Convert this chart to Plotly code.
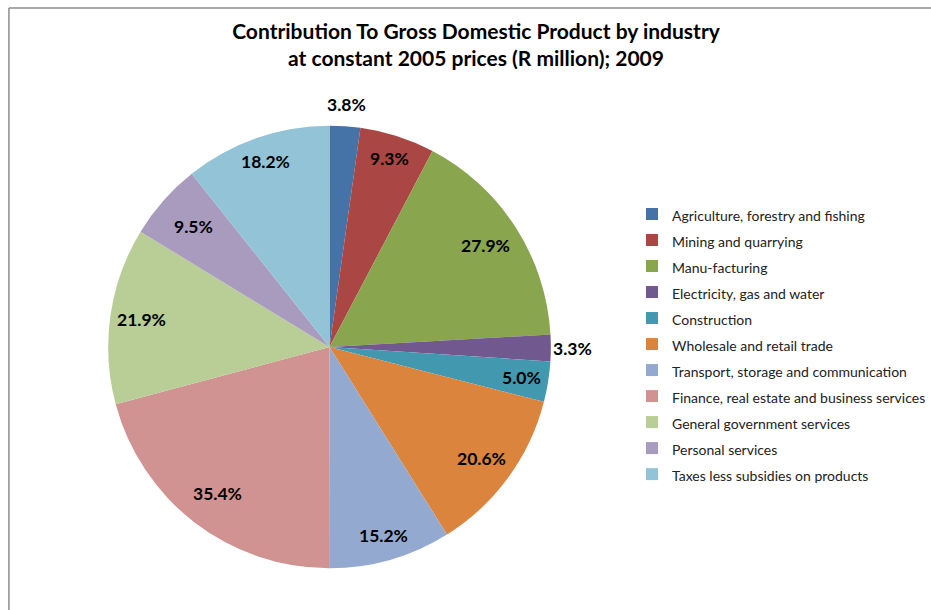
import math
import plotly.graph_objects as go

industries = [
    "Agriculture, forestry and fishing",
    "Mining and quarrying",
    "Manu-facturing",
    "Electricity, gas and water",
    "Construction",
    "Wholesale and retail trade",
    "Transport, storage and communication",
    "Finance, real estate and business services",
    "General government services",
    "Personal services",
    "Taxes less subsidies on products",
]
values = [3.8, 9.3, 27.9, 3.3, 5.0, 20.6, 15.2, 35.4, 21.9, 9.5, 18.2]
value_labels = ["3.8%", "9.3%", "27.9%", "3.3%", "5.0%", "20.6%", "15.2%", "35.4%", "21.9%", "9.5%", "18.2%"]

colors = ["#4572A7", "#AA4643", "#89A54E", "#71588F", "#4198AF", "#DB843D",
          "#93A9CF", "#D19392", "#B9CD96", "#A99BBD", "#92C3D6"]
# label distance from centre as a fraction of the radius (style)
label_radius = [1.09, 0.89, 0.84, 1.10, 0.88, 0.85, 0.88, 0.83, 0.86, 0.82, 0.88]

W, H = 931, 610
cx, cy, R = 332, 347, 223

fig = go.Figure()
fig.add_trace(go.Pie(
    labels=[f"<span style='font-size:14px'>{n}</span>" for n in industries],
    values=values,
    sort=False,
    direction="clockwise",
    rotation=0,
    marker=dict(colors=colors, line=dict(color="white", width=0)),
    textinfo="none",
    hoverinfo="label+value",
    domain=dict(x=[(cx - R) / W, (cx + R) / W], y=[1 - (cy + R) / H, 1 - (cy - R) / H]),
))

annotations = []
total = sum(values)
cum = 0.0
for v, t, f in zip(values, value_labels, label_radius):
    mid = (cum + v / 2) / total * 2 * math.pi
    cum += v
    px = cx + R * f * math.sin(mid)
    py = cy - R * f * math.cos(mid)
    annotations.append(dict(
        x=px / W, y=1 - py / H, xref="paper", yref="paper",
        text=f"<b>{t}</b>", showarrow=False,
        font=dict(family="Lato, Open Sans, sans-serif", size=17.5, color="black"),
        xanchor="center", yanchor="middle",
    ))

fig.update_layout(
    width=W, height=H,
    margin=dict(l=0, r=0, t=0, b=0),
    paper_bgcolor="white",
    title=dict(
        text="<b>Contribution To Gross Domestic Product by industry<br>at constant 2005 prices (R million); 2009</b>",
        x=476 / W, xanchor="center", y=1 - 39 / H, yanchor="middle",
        font=dict(family="Lato, Open Sans, sans-serif", size=21, color="black"),
    ),
    legend=dict(
        x=637 / W, xanchor="left", y=1 - 196 / H, yanchor="top",
        font=dict(family="Lato, Open Sans, sans-serif", size=17.7, color="#222222"),
        bgcolor="rgba(0,0,0,0)", itemclick=False,
    ),
    annotations=annotations,
    shapes=[
        dict(type="line", xref="paper", yref="paper", x0=9 / W, x1=1.02, y0=1 - 8 / H, y1=1 - 8 / H,
             line=dict(color="#8C8C8C", width=1.5)),
        dict(type="line", xref="paper", yref="paper", x0=9 / W, x1=9 / W, y0=1 - 8 / H, y1=-0.02,
             line=dict(color="#8C8C8C", width=1.5)),
    ],
)

fig.write_html("out.html")
